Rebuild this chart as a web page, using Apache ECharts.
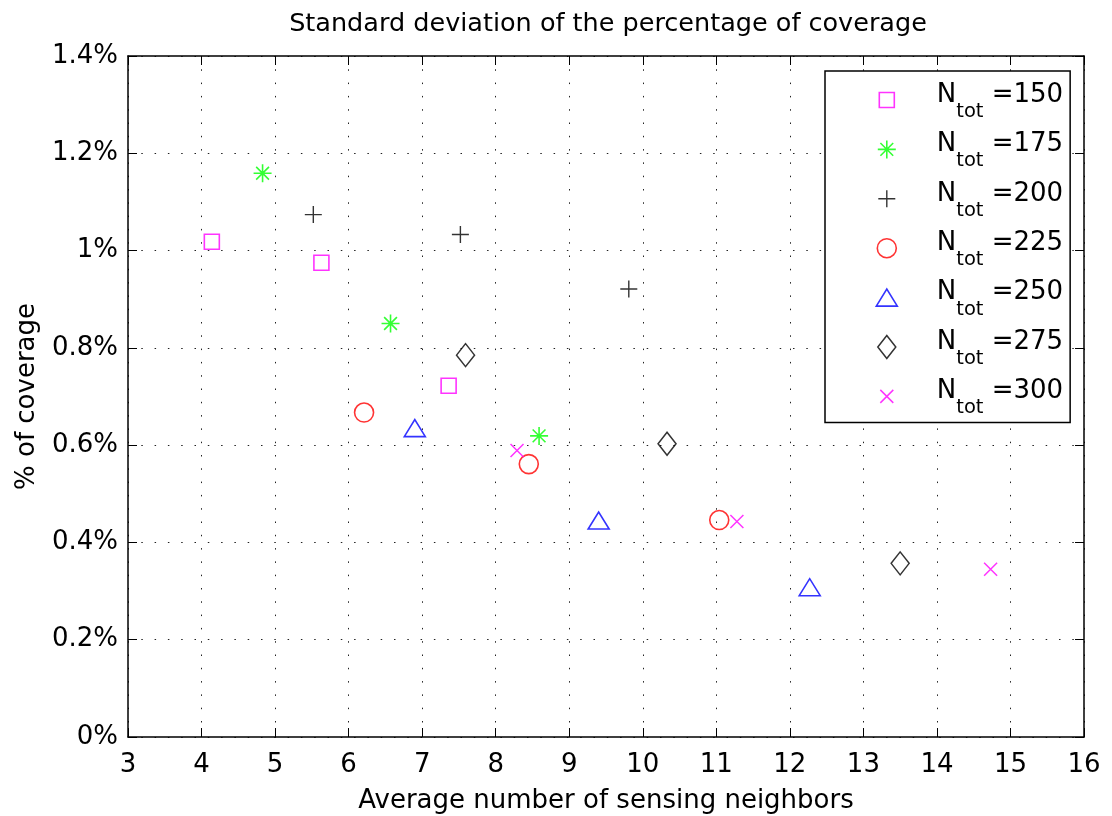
<!DOCTYPE html>
<html>
<head>
<meta charset="utf-8">
<script src="https://cdn.jsdelivr.net/npm/echarts@6/dist/echarts.min.js"></script>
<style>
  html, body { margin: 0; padding: 0; background: #fff; }
  #chart { width: 1112px; height: 816px; }
</style>
</head>
<body>
<div id="chart"></div>
<script>
// Total number of nodes for each group of runs
const nTot = ['150', '175', '200', '225', '250', '275', '300'];
// Average number of sensing neighbors (x) per group
const avgNeighbors = [
  [4.14, 5.63, 7.36],
  [4.83, 6.57, 8.59],
  [5.52, 7.52, 9.81],
  [6.21, 8.45, 11.04],
  [6.90, 9.40, 12.27],
  [7.59, 10.33, 13.50],
  [8.29, 11.28, 14.73]
];
// Standard deviation of the coverage, in percent (y) per group
const coverageStd = [
  [1.018, 0.975, 0.722],
  [1.159, 0.850, 0.619],
  [1.074, 1.033, 0.921],
  [0.667, 0.561, 0.446],
  [0.635, 0.445, 0.308],
  [0.785, 0.603, 0.357],
  [0.589, 0.443, 0.345]
];
const xTicks = { min: 3, max: 16, step: 1 };
const yTicks = { min: 0, max: 1.4, step: 0.2 };

const markerColors = ['#ff00ff', '#00ff00', '#000000', '#ff0000', '#0000ff', '#000000', '#ff00ff'];
// Marker outlines drawn in a 24x24 box centred on (12,12)
const markerShapes = [
  'M4.5,4.5L19.5,4.5L19.5,19.5L4.5,19.5Z',
  'M3,12L21,12M12,3L12,21M5.6,5.6L18.4,18.4M5.6,18.4L18.4,5.6',
  'M3.5,12L20.5,12M12,3.5L12,20.5',
  'M21.5,12A9.5,9.5,0,1,1,2.5,12A9.5,9.5,0,1,1,21.5,12Z',
  'M1.5,20.5L22.5,20.5L12,3.5Z',
  'M12,0.5L21,12L12,23.5L3,12Z',
  'M5.5,5.5L18.5,18.5M5.5,18.5L18.5,5.5'
];
const markerWidths = [1.6, 1.6, 1.4, 1.6, 1.6, 1.5, 1.5];

const FONT = 'DejaVu Sans';
const symbolBox = 'M0,0M24,24';
const legendBox = 'M0,0M24,31';

const chart = echarts.init(document.getElementById('chart'), null, { renderer: 'canvas' });

const series = nTot.map((n, i) => ({
  name: n,
  type: 'scatter',
  xAxisIndex: 0,
  yAxisIndex: 0,
  symbol: 'path://' + symbolBox + markerShapes[i],
  symbolSize: 24,
  itemStyle: { color: 'rgba(0,0,0,0)', borderColor: markerColors[i], borderWidth: markerWidths[i] },
  emphasis: { disabled: true },
  silent: true,
  data: avgNeighbors[i].map((x, j) => [x, coverageStd[i][j]])
}));

const frameLine = { show: true, onZero: false, lineStyle: { color: '#000', width: 1.5 } };
const innerTick = { show: true, inside: true, length: 9, lineStyle: { color: '#000', width: 1 } };
const dottedGrid = { show: true, lineStyle: { color: '#222', width: 1, type: [1.5, 11.8] } };
const labelText = { color: '#000', fontSize: 26, fontFamily: FONT };

chart.setOption({
  animation: false,
  backgroundColor: '#fff',
  title: {
    text: 'Standard deviation of the percentage of coverage',
    left: 608,
    top: 11,
    padding: 0,
    textAlign: 'center',
    textStyle: { color: '#000', fontSize: 25.5, fontWeight: 'normal', fontFamily: FONT }
  },
  grid: { left: 128, right: 28, top: 56, bottom: 79, containLabel: false, outerBoundsMode: 'none' },
  legend: {
    orient: 'vertical',
    left: 825,
    top: 71,
    padding: [11, 7, 4, 49],
    backgroundColor: '#fff',
    borderColor: '#000',
    borderWidth: 1.5,
    borderRadius: 0,
    itemWidth: 24,
    itemHeight: 31,
    itemGap: 9.4,
    selectedMode: false,
    data: nTot.map((n, i) => ({
      name: n,
      icon: 'path://' + legendBox + markerShapes[i],
      itemStyle: { color: 'rgba(0,0,0,0)', borderColor: markerColors[i], borderWidth: markerWidths[i] }
    })),
    formatter: n => '{n|N}{s|tot}{v| =' + n + '}',
    textStyle: {
      color: '#000',
      fontFamily: FONT,
      rich: {
        n: { fontSize: 26, fontFamily: FONT, color: '#000', padding: [0, 0, 17, 33] },
        s: { fontSize: 19.5, fontFamily: FONT, color: '#000', padding: [17, 0, 0, 0] },
        v: { fontSize: 26, fontFamily: FONT, color: '#000', padding: [0, 0, 17, 0] }
      }
    }
  },
  xAxis: [
    {
      type: 'value', position: 'bottom',
      min: xTicks.min, max: xTicks.max, interval: xTicks.step,
      axisLine: frameLine, axisTick: innerTick,
      axisLabel: Object.assign({ margin: 15 }, labelText),
      splitLine: dottedGrid,
      name: 'Average number of sensing neighbors',
      nameLocation: 'middle', nameGap: 51,
      nameTextStyle: labelText
    },
    {
      type: 'value', position: 'top',
      min: xTicks.min, max: xTicks.max, interval: xTicks.step,
      axisLine: frameLine, axisTick: innerTick,
      axisLabel: { show: false }, splitLine: { show: false }
    }
  ],
  yAxis: [
    {
      type: 'value', position: 'left',
      min: yTicks.min, max: yTicks.max, interval: yTicks.step,
      axisLine: frameLine, axisTick: innerTick,
      axisLabel: Object.assign({ margin: 10, formatter: v => (Math.round(v * 10) / 10) + '%' }, labelText),
      splitLine: dottedGrid,
      name: '% of coverage',
      nameLocation: 'middle', nameGap: 88,
      nameTextStyle: labelText
    },
    {
      type: 'value', position: 'right',
      min: yTicks.min, max: yTicks.max, interval: yTicks.step,
      axisLine: frameLine, axisTick: innerTick,
      axisLabel: { show: false }, splitLine: { show: false }
    }
  ],
  series: series
});
</script>
</body>
</html>
